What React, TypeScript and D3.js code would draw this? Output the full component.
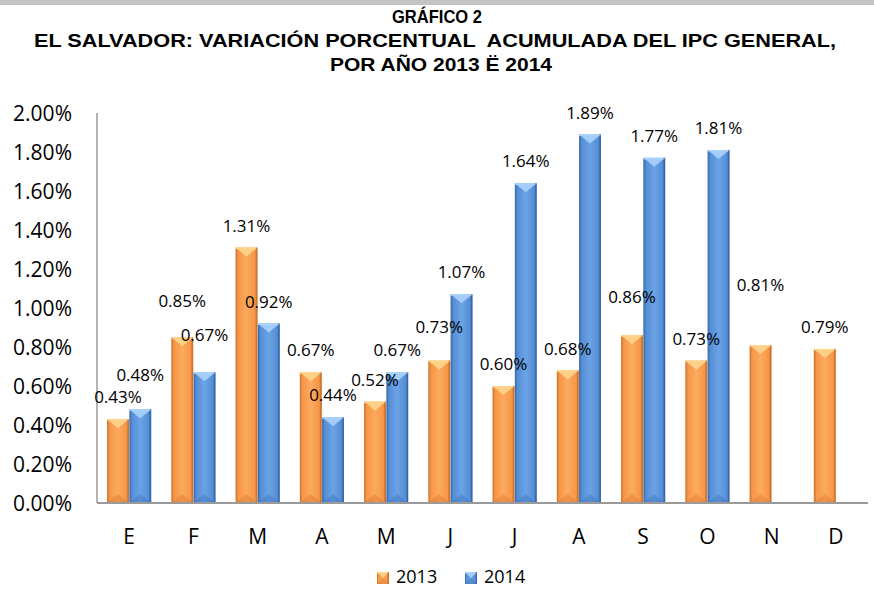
import React from 'react';
import * as d3 from 'd3';

// Data
const MONTHS = ['E', 'F', 'M', 'A', 'M', 'J', 'J', 'A', 'S', 'O', 'N', 'D'];
const SERIES = ['2013', '2014'];
const VALUES_2013 = [0.43, 0.85, 1.31, 0.67, 0.52, 0.73, 0.6, 0.68, 0.86, 0.73, 0.81, 0.79];
const VALUES_2014 = [0.48, 0.67, 0.92, 0.44, 0.67, 1.07, 1.64, 1.89, 1.77, 1.81];
const Y_TICKS = [0, 0.2, 0.4, 0.6, 0.8, 1.0, 1.2, 1.4, 1.6, 1.8, 2.0];
const TITLE_LINES = [
  'GRÁFICO 2',
  'EL SALVADOR: VARIACIÓN PORCENTUAL  ACUMULADA DEL IPC GENERAL,',
  'POR AÑO 2013 Ë 2014',
];

// extra lift (px) the original applied to some data labels
const LABEL_LIFT_2013 = [0, 14, 0, 0, 0, 12, 0, 0, 16, 0, 38, 0];
const LABEL_LIFT_2014 = [13, 15, 0, 0, 0, 0, 0, 0, 0, 0];

const W = 874;
const H = 590;
const plot = { left: 97, right: 868, top: 113, bottom: 503 };

const COLORS: Record<string, { dark: string; base: string; light: string; cap: string; foot: string }> = {
  '2013': { dark: '#c9702c', base: '#f79646', light: '#fcaa60', cap: '#fdd58c', foot: '#d97a32' },
  '2014': { dark: '#3565a8', base: '#558ed5', light: '#6ba3e6', cap: '#a9d3fb', foot: '#3f76bd' },
};

const LABEL_FONT = '"Open Sans", "DejaVu Sans", sans-serif';
const TITLE_FONT = '"Liberation Sans", Arial, sans-serif';

function Bar({ x, y, w, h, s }: { x: number; y: number; w: number; h: number; s: string }) {
  const c = COLORS[s];
  const bev = Math.min(9, h / 2);
  return (
    <g>
      <rect x={x} y={y} width={w} height={h} fill={`url(#grad-${s})`} />
      <polygon
        points={`${x},${y} ${x + w},${y} ${x + w / 2},${y + bev}`}
        fill={c.cap}
        opacity={0.9}
      />
      <rect x={x} y={y} width={w} height={1.5} fill={c.cap} />
      <polygon
        points={`${x},${y + h} ${x + w},${y + h} ${x + w / 2},${y + h - bev}`}
        fill={c.foot}
        opacity={0.45}
      />
      <rect x={x + w - 1.5} y={y} width={1.5} height={h} fill={c.dark} opacity={0.7} />
    </g>
  );
}

export default function App() {
  const x0 = d3
    .scaleBand<number>()
    .domain(MONTHS.map((_, i) => i))
    .range([plot.left, plot.right])
    .paddingInner(0.3)
    .paddingOuter(0.15);

  const x1 = d3.scaleBand<string>().domain(SERIES).range([0, x0.bandwidth()]).padding(0.02);

  const y = d3.scaleLinear().domain([0, 2]).range([plot.bottom, plot.top]);

  const seriesData = [
    { key: '2013', values: VALUES_2013, lift: LABEL_LIFT_2013 },
    { key: '2014', values: VALUES_2014, lift: LABEL_LIFT_2014 },
  ];

  const fmt = d3.format('.2f');

  return (
    <div style={{ position: 'absolute', left: 0, top: 0 }}>
      <svg width={W} height={H} style={{ display: 'block', background: '#fff' }}>
        <defs>
          {SERIES.map(s => (
            <linearGradient key={s} id={`grad-${s}`} x1="0" x2="1" y1="0" y2="0">
              <stop offset="0" stopColor={COLORS[s].dark} />
              <stop offset="0.12" stopColor={COLORS[s].base} />
              <stop offset="0.5" stopColor={COLORS[s].light} />
              <stop offset="0.88" stopColor={COLORS[s].base} />
              <stop offset="1" stopColor={COLORS[s].dark} />
            </linearGradient>
          ))}
        </defs>

        {/* top grey strip */}
        <rect x={0} y={0} width={W} height={5} fill="#c3c3c3" />

        {/* title */}
        <g fontFamily={TITLE_FONT} fontWeight="bold" fill="#000" textAnchor="middle">
          <text x={437} y={23} fontSize={19} textLength={90} lengthAdjust="spacingAndGlyphs">
            {TITLE_LINES[0]}
          </text>
          <text
            x={435}
            y={47}
            fontSize={19}
            textLength={802}
            lengthAdjust="spacingAndGlyphs"
            xmlSpace="preserve"
            style={{ whiteSpace: 'pre' }}
          >
            {TITLE_LINES[1]}
          </text>
          <text x={441} y={71} fontSize={19} textLength={222} lengthAdjust="spacingAndGlyphs">
            {TITLE_LINES[2]}
          </text>
        </g>

        {/* y tick labels */}
        <g fontFamily={LABEL_FONT} fontSize={21} fill="#000" textAnchor="end">
          {Y_TICKS.map(t => (
            <text key={t} x={72} y={y(t)} dy="0.36em">
              {fmt(t)}%
            </text>
          ))}
        </g>

        {/* bars */}
        {seriesData.map(sd => (
          <g key={sd.key}>
            {sd.values.map((v, i) => (
              <Bar
                key={i}
                x={(x0(i) ?? 0) + (x1(sd.key) ?? 0)}
                y={y(v)}
                w={x1.bandwidth()}
                h={y(0) - y(v)}
                s={sd.key}
              />
            ))}
          </g>
        ))}

        {/* axes */}
        <line x1={plot.left} x2={plot.left} y1={plot.top} y2={plot.bottom} stroke="#9a9a9a" strokeWidth={1.5} />
        <line x1={plot.left} x2={plot.right} y1={plot.bottom} y2={plot.bottom} stroke="#9a9a9a" strokeWidth={2} />

        {/* data labels */}
        <g fontFamily={LABEL_FONT} fontSize={17} fill="#000" textAnchor="middle">
          {seriesData.map(sd =>
            sd.values.map((v, i) => (
              <text
                key={`${sd.key}-${i}`}
                x={(x0(i) ?? 0) + (x1(sd.key) ?? 0) + x1.bandwidth() / 2}
                y={y(v) - 22 - sd.lift[i]}
                dy="0.36em"
              >
                {fmt(v)}%
              </text>
            ))
          )}
        </g>

        {/* x labels */}
        <g fontFamily={LABEL_FONT} fontSize={21} fill="#000" textAnchor="middle">
          {MONTHS.map((m, i) => (
            <text key={i} x={(x0(i) ?? 0) + x0.bandwidth() / 2} y={536} dy="0.36em">
              {m}
            </text>
          ))}
        </g>

        {/* legend */}
        <g fontFamily={LABEL_FONT} fontSize={18} fill="#000">
          {SERIES.map((s, i) => {
            const lx = 377 + i * 88;
            return (
              <g key={s}>
                <Bar x={lx} y={572} w={12} h={12} s={s} />
                <text x={lx + 19} y={577} dy="0.36em">
                  {s}
                </text>
              </g>
            );
          })}
        </g>
      </svg>
    </div>
  );
}
